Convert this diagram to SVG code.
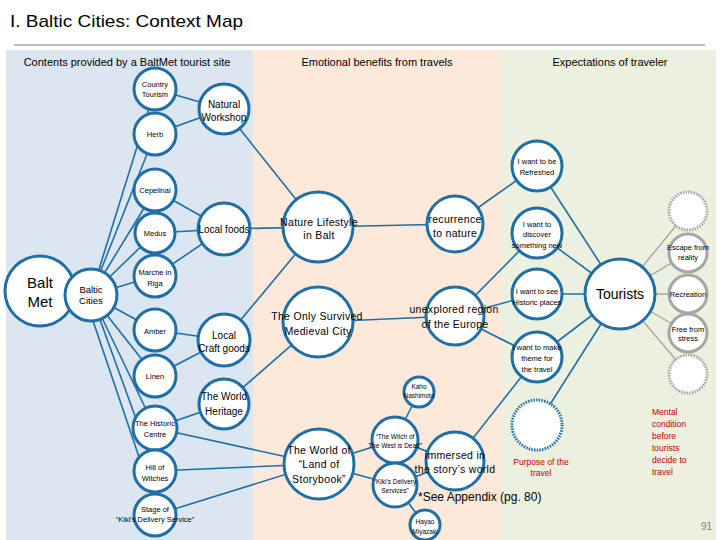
<svg xmlns="http://www.w3.org/2000/svg" width="720" height="540" viewBox="0 0 720 540">
<style>
text{font-family:"Liberation Sans",Arial,sans-serif;fill:#000;text-anchor:middle}
.n{fill:#fff;stroke:#1f6ea5;stroke-width:3}
.nd{fill:#fff;stroke:#1f6ea5;stroke-width:3;stroke-dasharray:1.5 1.2}
.g{fill:#fff;stroke:#a6a6a6;stroke-width:3}
.gd{fill:#fff;stroke:#a6a6a6;stroke-width:3;stroke-dasharray:1.5 1.2}
.c line{stroke:#1f6ea5;stroke-width:1.6}
.c line.gr{stroke:#a6a6a6;stroke-width:1.4}
.s{font-size:7.5px}
.xs{font-size:6.5px}
.m{font-size:10px}
.l{font-size:10.5px;letter-spacing:0.3px}
.h{font-size:11px}
.red{fill:#c00000;font-size:8.5px}
</style>
<rect x="0" y="0" width="720" height="540" fill="#fff"/>
<rect x="6" y="50" width="247" height="490" fill="#dce6f1"/>
<rect x="253" y="50" width="249" height="490" fill="#fde9d9"/>
<rect x="502" y="50" width="214" height="490" fill="#ebf1de"/>
<line x1="14" y1="45" x2="705" y2="45" stroke="#808080" stroke-width="1.2"/>
<text x="10" y="27" style="text-anchor:start;font-size:17px" textLength="233" lengthAdjust="spacingAndGlyphs">I. Baltic Cities: Context Map</text>
<text class="h" x="127" y="66">Contents provided by a BaltMet tourist site</text>
<text class="h" x="377" y="66">Emotional benefits from travels</text>
<text class="h" x="610" y="66">Expectations of traveler</text>

<g id="connectors" class="c">
<line x1="155" y1="89" x2="224" y2="109"/>
<line x1="155" y1="134" x2="224" y2="109"/>
<line x1="91" y1="295" x2="155" y2="89"/>
<line x1="91" y1="295" x2="155" y2="134"/>
<line x1="91" y1="295" x2="155" y2="190"/>
<line x1="91" y1="295" x2="155" y2="233"/>
<line x1="91" y1="295" x2="155" y2="276"/>
<line x1="91" y1="295" x2="155" y2="330"/>
<line x1="91" y1="295" x2="155" y2="376"/>
<line x1="91" y1="295" x2="155" y2="428"/>
<line x1="91" y1="295" x2="155" y2="471"/>
<line x1="86" y1="300" x2="140" y2="460"/>
<line x1="155" y1="190" x2="224" y2="229"/>
<line x1="155" y1="233" x2="224" y2="229"/>
<line x1="155" y1="276" x2="224" y2="229"/>
<line x1="155" y1="330" x2="224" y2="340"/>
<line x1="155" y1="376" x2="224" y2="340"/>
<line x1="155" y1="428" x2="224" y2="404"/>
<line x1="224" y1="109" x2="318" y2="227"/>
<line x1="224" y1="229" x2="318" y2="227"/>
<line x1="224" y1="340" x2="318" y2="227"/>
<line x1="224" y1="404" x2="318" y2="322"/>
<line x1="155" y1="428" x2="319" y2="464"/>
<line x1="155" y1="471" x2="319" y2="464"/>
<line x1="155" y1="515" x2="319" y2="464"/>
<line x1="318" y1="227" x2="455" y2="224"/>
<line x1="318" y1="322" x2="455" y2="316"/>
<line x1="319" y1="464" x2="395" y2="440"/>
<line x1="319" y1="464" x2="395" y2="485"/>
<line x1="395" y1="440" x2="419" y2="392"/>
<line x1="395" y1="485" x2="425" y2="525"/>
<line x1="395" y1="440" x2="455" y2="461"/>
<line x1="395" y1="485" x2="455" y2="461"/>
<line x1="455" y1="224" x2="537" y2="166"/>
<line x1="455" y1="316" x2="537" y2="233"/>
<line x1="455" y1="316" x2="537" y2="294"/>
<line x1="455" y1="316" x2="537" y2="357"/>
<line x1="455" y1="461" x2="537" y2="357"/>
<line x1="537" y1="166" x2="620" y2="294"/>
<line x1="537" y1="233" x2="620" y2="294"/>
<line x1="537" y1="294" x2="620" y2="294"/>
<line x1="537" y1="357" x2="620" y2="294"/>
<line x1="537" y1="425" x2="620" y2="294"/>
<line class="gr" x1="620" y1="294" x2="688" y2="211"/>
<line class="gr" x1="620" y1="294" x2="688" y2="253"/>
<line class="gr" x1="620" y1="294" x2="688" y2="294"/>
<line class="gr" x1="620" y1="294" x2="688" y2="333"/>
<line class="gr" x1="620" y1="294" x2="688" y2="374"/>
</g>

<g id="country-tourism"><circle class="n" cx="155" cy="89" r="21"/><text class="s" x="155" y="87">Country</text><text class="s" x="155" y="97">Tourism</text></g>
<g id="herb"><circle class="n" cx="155" cy="134" r="21"/><text class="s" x="155" y="137">Herb</text></g>
<g id="natural-workshop"><circle class="n" cx="224" cy="109" r="25"/><text class="m" x="224" y="108">Natural</text><text class="m" x="224" y="121">Workshop</text></g>
<g id="cepelinai"><circle class="n" cx="155" cy="190" r="21"/><text class="s" x="155" y="193">Cepelinai</text></g>
<g id="medus"><circle class="n" cx="155" cy="233" r="20"/><text class="s" x="155" y="236">Medus</text></g>
<g id="local-foods"><circle class="n" cx="224" cy="229" r="26"/><text class="m" x="224" y="233">Local foods</text></g>
<g id="marche"><circle class="n" cx="155" cy="276" r="21"/><text class="s" x="155" y="275">Marche in</text><text class="s" x="155" y="286">Riga</text></g>
<g id="balt-met"><circle class="n" cx="40" cy="291" r="35"/><text x="40" y="288" style="font-size:15px">Balt</text><text x="40" y="307" style="font-size:15px">Met</text></g>
<g id="baltic-cities"><circle class="n" cx="91" cy="295" r="26"/><text x="91" y="293" style="font-size:9.5px">Baltic</text><text x="91" y="304" style="font-size:9.5px">Cities</text></g>
<g id="amber"><circle class="n" cx="155" cy="330" r="21"/><text class="s" x="155" y="334">Amber</text></g>
<g id="local-craft"><circle class="n" cx="224" cy="340" r="26"/><text class="m" x="224" y="339">Local</text><text class="m" x="224" y="352">Craft goods</text></g>
<g id="linen"><circle class="n" cx="155" cy="376" r="21"/><text class="s" x="155" y="379">Linen</text></g>
<g id="world-heritage"><circle class="n" cx="224" cy="404" r="25"/><text class="m" x="224" y="400">The World</text><text class="m" x="224" y="415">Heritage</text></g>
<g id="historic-centre"><circle class="n" cx="155" cy="428" r="22"/><text class="s" x="155" y="426">The Historic</text><text class="s" x="155" y="437">Centre</text></g>
<g id="hill-witches"><circle class="n" cx="155" cy="471" r="21"/><text class="s" x="155" y="470">Hill of</text><text class="s" x="155" y="481">Witches</text></g>
<g id="stage-kiki"><circle class="n" cx="155" cy="515" r="21"/><text class="s" x="155" y="512">Stage of</text><text class="s" x="155" y="522">“Kiki's Delivery Service”</text></g>

<g id="nature-lifestyle"><circle class="n" cx="318" cy="227" r="35"/><text class="l" x="319" y="226">Nature Lifestyle</text><text class="l" x="319" y="239">in Balt</text></g>
<g id="medieval-city"><circle class="n" cx="318" cy="322" r="35"/><text class="l" x="317" y="320">The Only Survived</text><text class="l" x="318" y="335">Medieval City</text></g>
<g id="recurrence"><circle class="n" cx="455" cy="224" r="28"/><text class="l" x="455" y="223">recurrence</text><text class="l" x="455" y="237">to nature</text></g>
<g id="unexplored"><circle class="n" cx="455" cy="316" r="29"/><text class="l" x="454" y="313">unexplored region</text><text class="l" x="455" y="328">of the Europe</text></g>
<g id="storybook"><circle class="n" cx="319" cy="464" r="35"/><text class="l" x="319" y="454">The World of</text><text class="l" x="319" y="468">“Land of</text><text class="l" x="319" y="483">Storybook”</text></g>
<g id="kaho"><circle class="n" cx="419" cy="392" r="15"/><text class="xs" x="419" y="389">Kaho</text><text class="xs" x="419" y="398">Nashimoto</text></g>
<g id="witch-west"><circle class="n" cx="395" cy="440" r="23"/><text class="xs" x="395" y="439">“The Witch of</text><text class="xs" x="395" y="448">The West is Dead”</text></g>
<g id="kiki-services"><circle class="n" cx="395" cy="485" r="22"/><text class="xs" x="395" y="484">“Kiki's Delivery</text><text class="xs" x="395" y="493">Services”</text></g>
<g id="immersed"><circle class="n" cx="455" cy="461" r="29"/><text class="l" x="455" y="459">immersed in</text><text class="l" x="455" y="473">the story’s world</text></g>
<g id="hayao"><circle class="n" cx="425" cy="525" r="15"/><text class="xs" x="425" y="524">Hayao</text><text class="xs" x="425" y="534">Miyazaki</text></g>

<g id="refreshed"><circle class="n" cx="537" cy="166" r="25"/><text class="s" x="537" y="164">I want to be</text><text class="s" x="537" y="175">Refreshed</text></g>
<g id="discover"><circle class="n" cx="537" cy="233" r="25"/><text class="s" x="537" y="227">I want to</text><text class="s" x="537" y="237">discover</text><text class="s" x="537" y="248">something new</text></g>
<g id="historic-places"><circle class="n" cx="537" cy="294" r="25"/><text class="s" x="537" y="294">I want to see</text><text class="s" x="537" y="305">Historic places</text></g>
<g id="make-theme"><circle class="n" cx="537" cy="357" r="25"/><text class="s" x="537" y="350">I want to make</text><text class="s" x="537" y="361">theme for</text><text class="s" x="537" y="372">the travel</text></g>
<g id="purpose"><circle class="nd" cx="537" cy="425" r="25"/></g>
<g id="tourists"><circle class="n" cx="620" cy="294" r="35"/><text x="620" y="299" style="font-size:14px">Tourists</text></g>
<g id="gray-top"><circle class="gd" cx="688" cy="211" r="19"/></g>
<g id="escape"><circle class="g" cx="688" cy="253" r="19"/><text class="s" x="688" y="250">Escape from</text><text class="s" x="688" y="260">reality</text></g>
<g id="recreation"><circle class="g" cx="688" cy="294" r="19"/><text class="s" x="688" y="297">Recreation</text></g>
<g id="free-stress"><circle class="g" cx="688" cy="333" r="19"/><text class="s" x="688" y="332">Free from</text><text class="s" x="688" y="341">stress</text></g>
<g id="gray-bottom"><circle class="gd" cx="688" cy="374" r="19"/></g>

<text class="red" x="541" y="465">Purpose of the</text>
<text class="red" x="541" y="476">travel</text>
<g>
<text class="red" x="652" y="415" style="text-anchor:start">Mental</text>
<text class="red" x="652" y="427" style="text-anchor:start">condition</text>
<text class="red" x="652" y="439" style="text-anchor:start">before</text>
<text class="red" x="652" y="451" style="text-anchor:start">tourists</text>
<text class="red" x="652" y="463" style="text-anchor:start">decide to</text>
<text class="red" x="652" y="475" style="text-anchor:start">travel</text>
</g>
<text x="418" y="501" style="text-anchor:start;font-size:12px">*See Appendix (pg. 80)</text>
<text x="712" y="530" style="text-anchor:end;font-size:10px;fill:#808080">91</text>
</svg>
